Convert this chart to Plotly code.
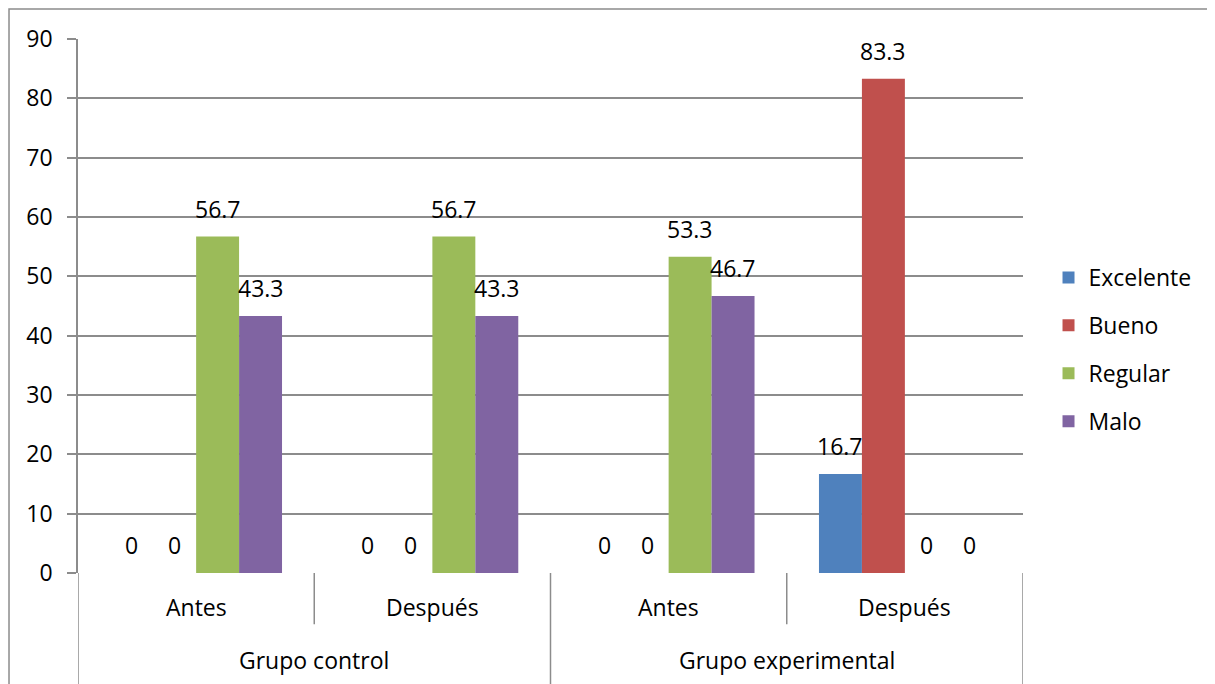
import plotly.graph_objects as go

groups = ["Grupo control", "Grupo experimental"]
phases = ["Antes", "Después", "Antes", "Después"]
series_names = ["Excelente", "Bueno", "Regular", "Malo"]
excelente = [0, 0, 0, 16.7]
bueno = [0, 0, 0, 83.3]
regular = [56.7, 56.7, 53.3, 0]
malo = [43.3, 43.3, 46.7, 0]
series_values = [excelente, bueno, regular, malo]
colors = ["#4F81BD", "#C0504D", "#9BBB59", "#8064A2"]
y_ticks = list(range(0, 91, 10))

FONT = "Open Sans"
FS = 23
GRID = "#8c8c8c"
bargap = 1.5 / 5.5
n = len(series_names)
bw = (1 - bargap) / n

xpos = list(range(len(phases)))

fig = go.Figure()
annotations = []
for i, (name, vals, col) in enumerate(zip(series_names, series_values, colors)):
    fig.add_trace(go.Bar(
        x=xpos, y=vals, name=name, marker=dict(color=col, line=dict(width=0)),
        legendgroup=name,
    ))
    off = -(1 - bargap) / 2 + bw * (i + 0.5)
    for xv, v in zip(xpos, vals):
        annotations.append(dict(
            x=xv + off, y=v, xref="x", yref="y", text=f"{v:g}", showarrow=False,
            yanchor="bottom", yshift=10, font=dict(family=FONT, size=FS, color="#000"),
        ))

# category labels
for xv, p in zip(xpos, phases):
    annotations.append(dict(x=xv, y=-0.064, xref="x", yref="paper", text=p, showarrow=False,
                            yanchor="middle", font=dict(family=FONT, size=FS, color="#000")))
for gi, g in enumerate(groups):
    annotations.append(dict(x=gi * 2 + 0.5, y=-0.163, xref="x", yref="paper", text=g, showarrow=False,
                            yanchor="middle", font=dict(family=FONT, size=FS, color="#000")))

shapes = []
# dividers
for k in range(len(phases) + 1):
    xb = k - 0.5
    outer = (k % 2 == 0)
    shapes.append(dict(type="line", xref="x", yref="paper", x0=xb, x1=xb, y0=0,
                       y1=-0.25 if outer else -0.096, line=dict(color=GRID, width=1.5)))
# outer chart frame
shapes.append(dict(type="rect", xref="paper", yref="paper", x0=-0.073, x1=1.3, y0=1.056, y1=-0.3,
                   line=dict(color=GRID, width=1.5), layer="below"))

fig.update_layout(
    width=1207, height=676,
    margin=dict(l=70, r=192, t=31, b=111),
    paper_bgcolor="white", plot_bgcolor="white",
    barmode="group", bargap=bargap, bargroupgap=0,
    font=dict(family=FONT, size=FS, color="#000"),
    xaxis=dict(range=[-0.5, 3.5], showticklabels=False, showgrid=False, zeroline=False,
               showline=False, ticks=""),
    yaxis=dict(range=[0, 90], tickvals=y_ticks, showgrid=True, gridcolor=GRID, gridwidth=1.5,
               zeroline=False, showline=True, linecolor=GRID, linewidth=1.5,
               ticks="outside", ticklen=9, tickcolor=GRID, tickwidth=1.5,
               ticklabelstandoff=10, tickfont=dict(family=FONT, size=FS, color="#000")),
    legend=dict(x=1.027, y=0.4185, xanchor="left", yanchor="middle", tracegroupgap=15,
                font=dict(family=FONT, size=FS, color="#000"), bgcolor="rgba(0,0,0,0)"),
    showlegend=True,
    annotations=annotations,
    shapes=shapes,
)

fig.write_html("out.html")
